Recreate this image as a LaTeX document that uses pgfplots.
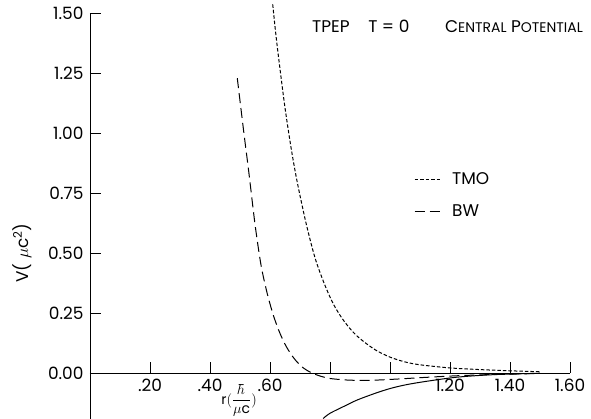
\documentclass[border=0pt]{standalone}
\usepackage{fontspec}
\setmainfont{Poppins}
\usepackage{pgfplots}
\pgfplotsset{compat=1.18}

\begin{document}
\begin{tikzpicture}
\begin{axis}[
  scale only axis, width=480bp, height=405.6bp,
  xmin=0, xmax=1.6, ymin=-0.19, ymax=1.5,
  axis lines=middle,
  axis line style={-, line width=0.9pt},
  xtick={0.2,0.4,0.6,0.8,1.0,1.2,1.4,1.6},
  xticklabels={.20,.40,.60,,,1.20,1.40,1.60},
  ytick={0,0.25,0.5,0.75,1.0,1.25,1.5},
  yticklabels={0.00,0.25,0.50,0.75,1.00,1.25,1.50},
  hide obscured y ticks=false,
  tick align=inside, major tick length=11bp,
  tick style={black, line width=0.8pt},
  tick label style={font=\fontsize{17}{19}\selectfont},
  xticklabel style={inner xsep=0pt, inner ysep=1pt, yshift=-5bp},
  yticklabel style={xshift=-3bp},
  /pgf/number format/assume math mode=true,
  clip=false,
  legend style={draw=none, fill=none, at={(axis cs:1.07,0.74)}, anchor=west,
    font=\fontsize{17}{19}\selectfont, row sep=15bp,
    /tikz/every odd column/.append style={column sep=8bp}},
  legend cell align=left,
  legend image code/.code={\draw[#1] (0bp,0bp) -- (27bp,0bp);},
]
\addplot[black, line width=1pt, smooth, dash pattern=on 3.5bp off 2bp] coordinates {
  (0.609,1.536) (0.62,1.405) (0.633,1.27) (0.65,1.105) (0.67,0.94) (0.69,0.80)
  (0.72,0.625) (0.75,0.48) (0.78,0.375) (0.81,0.29) (0.84,0.228) (0.87,0.18)
  (0.90,0.143) (0.95,0.097) (1.0,0.066) (1.05,0.046) (1.1,0.034) (1.2,0.021)
  (1.3,0.014) (1.4,0.009) (1.5,0.005)};
\addlegendentry{TMO}
\addplot[black, line width=1pt, smooth, dash pattern=on 10bp off 5bp] coordinates {
  (0.491,1.228) (0.511,1.02) (0.53,0.83) (0.55,0.62) (0.57,0.45) (0.59,0.335)
  (0.61,0.245) (0.63,0.175) (0.65,0.12) (0.67,0.078) (0.69,0.046) (0.71,0.022)
  (0.73,0.006) (0.745,-0.003) (0.77,-0.014) (0.80,-0.023) (0.85,-0.029) (0.90,-0.031)
  (0.95,-0.03) (1.03,-0.025) (1.11,-0.019) (1.2,-0.013) (1.3,-0.008) (1.4,-0.005)
  (1.5,-0.002)};
\addlegendentry{BW}
\addplot[black, line width=1pt, smooth, forget plot] coordinates {
  (0.777,-0.19) (0.80,-0.168) (0.85,-0.137) (0.89,-0.113) (0.95,-0.085) (1.0,-0.065)
  (1.05,-0.05) (1.11,-0.037) (1.22,-0.018) (1.33,-0.008) (1.42,-0.004) (1.5,-0.001)};

\node[anchor=base west, inner sep=0pt, font=\fontsize{17}{19}\selectfont] at (axis cs:0.74,1.417) {TPEP};
\node[anchor=base west, inner sep=0pt, font=\fontsize{17}{19}\selectfont] at (axis cs:0.927,1.417) {T = 0};
\node[anchor=base west, inner sep=0pt, font=\fontsize{17}{19}\selectfont] at (axis cs:1.183,1.417)
  {C{\fontsize{14}{15}\selectfont ENTRAL} P{\fontsize{14}{15}\selectfont OTENTIAL}};
\node[rotate=90, font=\fontsize{17}{19}\selectfont] at (axis cs:-0.227,0.5)
  {V( $\mu$c\textsuperscript{2})};
\node[inner sep=0pt, font=\fontsize{14}{16}\selectfont] at (axis cs:0.497,-0.115)
  {r$\bigl(\displaystyle\frac{\hbar}{\mu\mbox{c}}\bigr)$};
\coordinate (bl) at (axis cs:-0.3,-0.19);
\coordinate (tr) at (axis cs:1.67,1.554);
\end{axis}
\pgfresetboundingbox
\useasboundingbox (bl) rectangle (tr);
\end{tikzpicture}
\end{document}
